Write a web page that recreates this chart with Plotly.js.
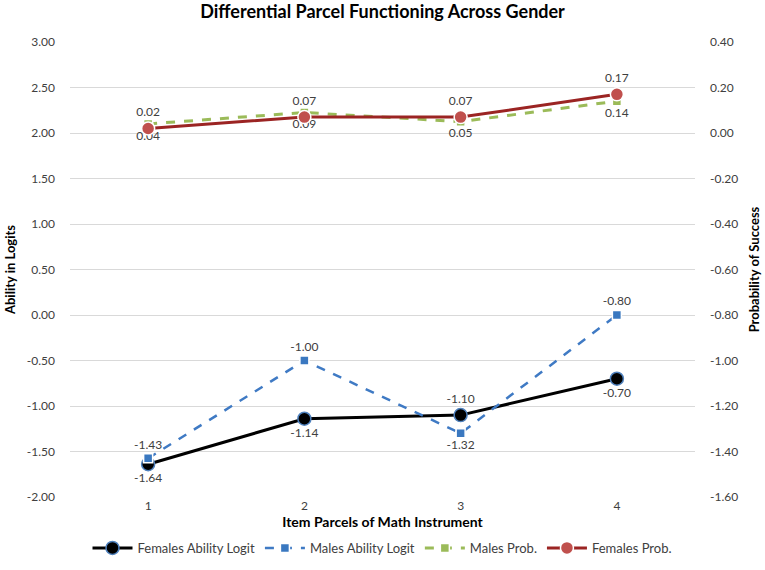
<!DOCTYPE html>
<html><head><meta charset="utf-8">
<script src="https://cdn.plot.ly/plotly-3.0.1.min.js"></script>
<style>html,body{margin:0;padding:0;background:#fff}#c{width:765px;height:570px}</style>
</head><body><div id="c"></div>
<script>
var parcels = ['1','2','3','4'];
var femalesAbility = [-1.64, -1.14, -1.10, -0.70];
var malesAbility = [-1.43, -1.00, -1.32, -0.80];
var malesProb = [0.04, 0.09, 0.05, 0.14];
var femalesProb = [0.02, 0.07, 0.07, 0.17];
var leftTicks = [-2, -1.5, -1, -0.5, 0, 0.5, 1, 1.5, 2, 2.5, 3];
var rightTicks = [-1.6, -1.4, -1.2, -1.0, -0.8, -0.6, -0.4, -0.2, 0, 0.2, 0.4];

function lbl(a){return a.map(function(v){return v.toFixed(2);});}
var lf = {family:'Lato, "Open Sans", sans-serif', size:12, color:'#404040'};

var traces = [
 {name:'Females Ability Logit', x:parcels, y:femalesAbility, yaxis:'y', mode:'lines+markers+text',
  line:{color:'#000000', width:3}, marker:{symbol:'circle', size:13, color:'#000000', line:{color:'#4f81bd', width:1.5}},
  text:lbl(femalesAbility), textposition:['bottom center','bottom center','top center','bottom center'], textfont:lf, cliponaxis:false},
 {name:'Males Ability Logit', x:parcels, y:malesAbility, yaxis:'y2', mode:'lines+markers+text',
  line:{color:'#3f7ac4', width:2.5, dash:'dash'}, marker:{symbol:'square', size:9, color:'#3a78c0', line:{color:'#ffffff', width:1.5}},
  text:lbl(malesAbility), textposition:['top center','top center','bottom center','top center'], textfont:lf, cliponaxis:false},
 {name:'Males Prob.', x:parcels, y:malesProb, yaxis:'y2', mode:'lines+markers+text',
  line:{color:'#9bbb59', width:3, dash:'dash'}, marker:{symbol:'square', size:9, color:'#9bbb59', line:{color:'#ffffff', width:1.5}},
  text:lbl(malesProb), textposition:'bottom center', textfont:lf, cliponaxis:false},
 {name:'Females Prob.', x:parcels, y:femalesProb, yaxis:'y2', mode:'lines+markers+text',
  line:{color:'#9b2423', width:3}, marker:{symbol:'circle', size:13, color:'#c0504d', line:{color:'#ffffff', width:1.5}},
  text:lbl(femalesProb), textposition:'top center', textfont:lf, cliponaxis:false}
];

var tf = {family:'Lato, "Open Sans", sans-serif', size:12, color:'#404040'};
var layout = {
  width:765, height:570,
  margin:{l:70, r:70, t:42, b:73, autoexpand:false},
  paper_bgcolor:'#ffffff', plot_bgcolor:'#ffffff',
  title:{text:'<b>Differential Parcel Functioning Across Gender</b>', x:0.5, xanchor:'center', y:0.99, yanchor:'top',
    font:{family:'Lato, "Open Sans", sans-serif', size:18, color:'#000000'}},
  xaxis:{type:'category', range:[-0.5,3.5], showgrid:false, zeroline:false, showline:false, ticks:'', tickfont:tf, automargin:false,
    title:{text:'<b>Item Parcels of Math Instrument</b>', font:{family:'Lato, sans-serif', size:14, color:'#000'}, standoff:4}},
  yaxis:{range:[-2,3], tickvals:leftTicks, ticktext:leftTicks.map(function(v){return v.toFixed(2);}), automargin:false,
    showgrid:true, gridcolor:'#d9d9d9', gridwidth:1, zeroline:false, showline:false, tickfont:tf, ticklabelstandoff:14,
    title:{text:'<b>Ability in Logits</b>', font:{family:'Lato, sans-serif', size:13, color:'#000'}, standoff:8}},
  yaxis2:{range:[-1.6,0.4], overlaying:'y', side:'right', tickvals:rightTicks, ticktext:rightTicks.map(function(v){return v.toFixed(2);}), automargin:false,
    showgrid:false, zeroline:false, showline:false, tickfont:tf, ticklabelstandoff:14,
    title:{text:'<b>Probability of Success</b>', font:{family:'Lato, sans-serif', size:13, color:'#000'}, standoff:12}},
  legend:{orientation:'h', x:0.5, xanchor:'center', y:-0.112, yanchor:'middle', font:{family:'Lato, sans-serif', size:13, color:'#404040'}, itemwidth:40},
  showlegend:true
};
Plotly.newPlot('c', traces, layout, {displayModeBar:false});
</script></body></html>
